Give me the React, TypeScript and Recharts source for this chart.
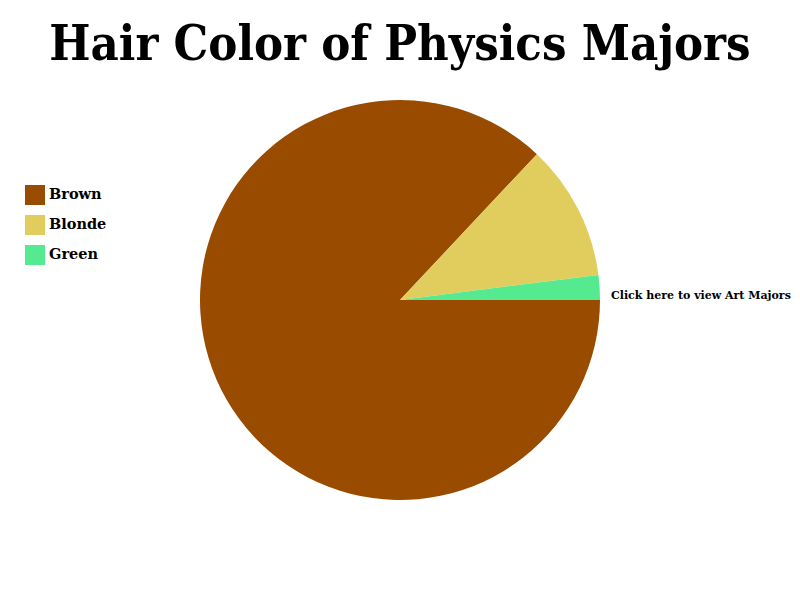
import React from 'react';
import { Cell, Pie, PieChart } from 'recharts';

const hairColors = ['Brown', 'Blonde', 'Green'];
const studentShares = [87, 11, 2];
const sliceColors = ['#994C00', '#E1CD5E', '#55EA90'];

const pieData = hairColors.map((name, i) => ({ name, value: studentShares[i] }));

export default function App(): React.ReactElement {
  return (
    <div
      style={{
        position: 'absolute',
        top: 0,
        left: 0,
        width: 800,
        height: 600,
        background: '#fff',
        fontFamily: '"DejaVu Serif", serif',
      }}
    >
      <div
        style={{
          position: 'absolute',
          top: 13,
          left: 0,
          width: 800,
          textAlign: 'center',
          fontSize: 48.5,
          fontWeight: 'bold',
          fontStretch: 'condensed',
          fontFamily: '"DejaVu Serif Condensed", "DejaVu Serif", serif',
          lineHeight: '60px',
        }}
      >
        Hair Color of Physics Majors
      </div>
      <PieChart width={800} height={600} margin={{ top: 0, right: 0, bottom: 0, left: 0 }}>
        <Pie
          data={pieData}
          dataKey="value"
          nameKey="name"
          cx={400}
          cy={300}
          outerRadius={200}
          startAngle={360}
          endAngle={0}
          stroke="none"
          isAnimationActive={false}
        >
          {pieData.map((entry, i) => (
            <Cell key={`cell-${entry.name}`} fill={sliceColors[i]} />
          ))}
        </Pie>
      </PieChart>
      {hairColors.map((name, i) => (
        <React.Fragment key={name}>
          <div
            style={{
              position: 'absolute',
              left: 25,
              top: 185 + i * 30,
              width: 20,
              height: 20,
              background: sliceColors[i],
            }}
          />
          <div
            style={{
              position: 'absolute',
              left: 49,
              top: 184 + i * 30,
              lineHeight: '20px',
              fontSize: 14.5,
              fontWeight: 'bold',
              whiteSpace: 'nowrap',
            }}
          >
            {name}
          </div>
        </React.Fragment>
      ))}
      <div
        style={{
          position: 'absolute',
          left: 611,
          top: 288,
          fontSize: 11,
          lineHeight: '16px',
          fontWeight: 'bold',
          whiteSpace: 'nowrap',
        }}
      >
        Click here to view Art Majors
      </div>
    </div>
  );
}
